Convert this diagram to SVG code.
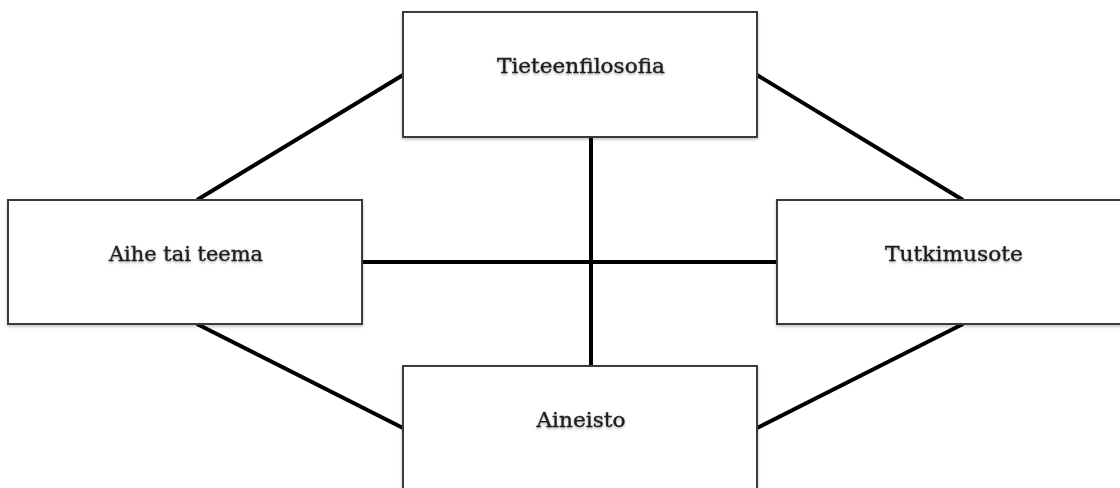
<svg xmlns="http://www.w3.org/2000/svg" width="1120" height="488" viewBox="0 0 1120 488">
  <defs>
    <filter id="soft" x="-10%" y="-10%" width="120%" height="130%">
      <feDropShadow dx="0" dy="1.5" stdDeviation="1.5" flood-color="#000" flood-opacity="0.25"/>
    </filter>
    <filter id="textShade" x="-5%" y="-30%" width="110%" height="160%">
      <feDropShadow dx="0" dy="1.5" stdDeviation="1.2" flood-color="#000" flood-opacity="0.3"/>
    </filter>
  </defs>
  <style>
    .box { fill: #ffffff; stroke: #3a3a3a; stroke-width: 2; filter: url(#soft); }
    .label { font-family: "DejaVu Serif", "Liberation Serif", serif; font-size: 21px; fill: #1e1e1e; stroke: #1e1e1e; stroke-width: 0.35; text-anchor: middle; filter: url(#textShade); }
    .link { stroke: #000000; stroke-width: 4; fill: none; }
  </style>
  <rect width="1120" height="488" fill="#ffffff"/>

  <!-- connectors -->
  <g id="connectors">
    <line class="link" x1="403" y1="75" x2="197" y2="200"/>
    <line class="link" x1="757" y1="75" x2="963" y2="200"/>
    <line class="link" x1="197" y1="324" x2="403" y2="428"/>
    <line class="link" x1="963" y1="324" x2="757" y2="428"/>
    <line class="link" x1="591" y1="137" x2="591" y2="366"/>
    <line class="link" x1="362" y1="262" x2="777" y2="262"/>
  </g>

  <g id="node-tieteenfilosofia">
    <rect class="box" x="403" y="12" width="354" height="125"/>
    <text class="label" x="581" y="73" textLength="168" lengthAdjust="spacingAndGlyphs">Tieteenfilosofia</text>
  </g>

  <g id="node-aihe">
    <rect class="box" x="8" y="200" width="354" height="124"/>
    <text class="label" x="186" y="261" textLength="154" lengthAdjust="spacingAndGlyphs">Aihe tai teema</text>
  </g>

  <g id="node-tutkimusote">
    <rect class="box" x="777" y="200" width="354" height="124"/>
    <text class="label" x="954" y="261" textLength="138" lengthAdjust="spacingAndGlyphs">Tutkimusote</text>
  </g>

  <g id="node-aineisto">
    <rect class="box" x="403" y="366" width="354" height="130"/>
    <text class="label" x="581" y="427" textLength="89" lengthAdjust="spacingAndGlyphs">Aineisto</text>
  </g>
</svg>
